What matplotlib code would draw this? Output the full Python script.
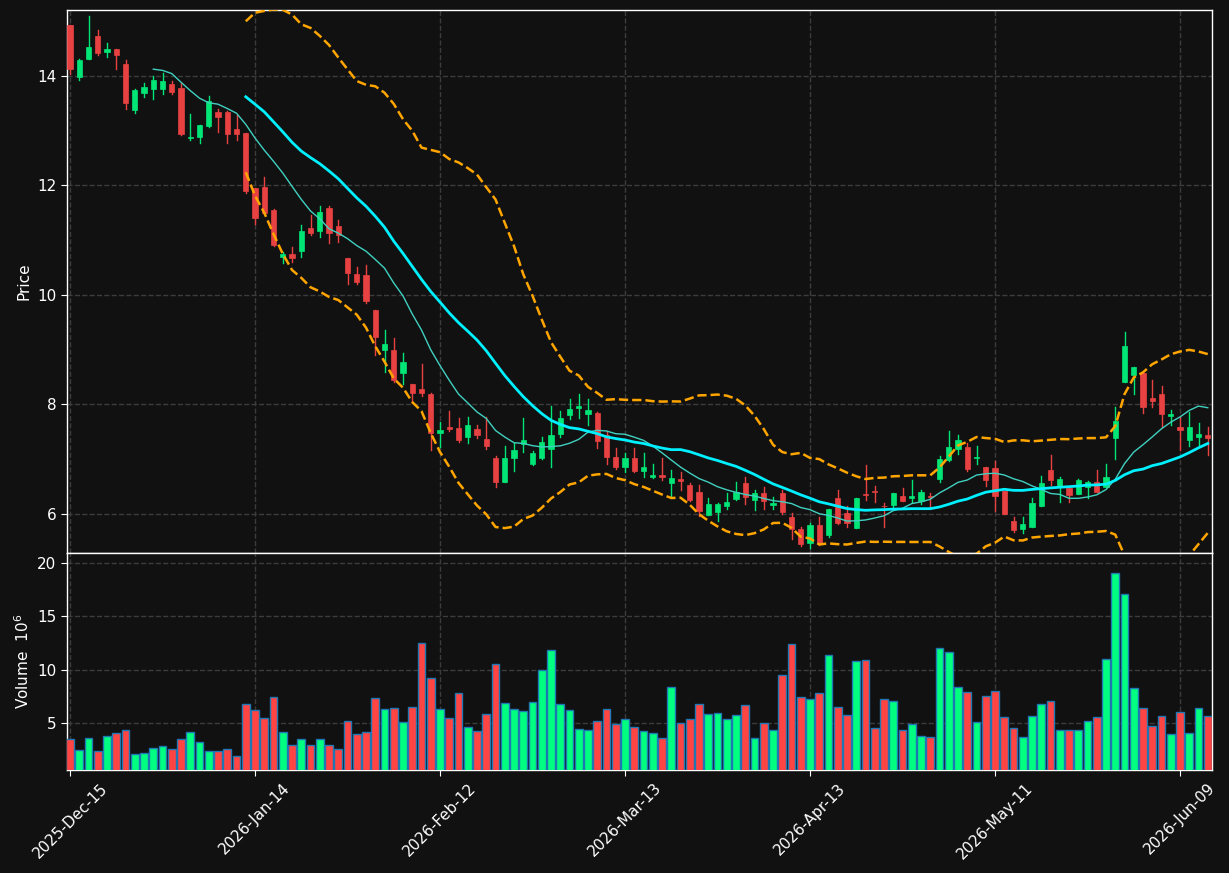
import numpy as np
import pandas as pd
import matplotlib
matplotlib.use("Agg")
import matplotlib.pyplot as plt
from matplotlib.patches import Rectangle
from matplotlib.lines import Line2D

# ---------------- data ----------------
opens = [14.92, 13.97, 14.30, 14.73, 14.43, 14.48, 14.22, 13.38, 13.69, 13.75,
         13.75, 13.85, 13.78, 12.87, 12.88, 13.08, 13.33, 13.33, 13.03, 12.96,
         11.95, 11.97, 11.55, 10.69, 10.74, 10.80, 11.22, 11.16, 11.59, 11.26,
         10.67, 10.38, 10.36, 9.72, 8.99, 8.99, 8.57, 8.38, 8.29, 8.19,
         7.48, 7.58, 7.57, 7.41, 7.55, 7.37, 7.02, 6.59, 7.03, 7.28,
         6.92, 7.03, 7.19, 7.47, 7.81, 7.94, 7.83, 7.84, 7.44, 7.04,
         6.85, 7.02, 6.79, 6.68, 6.71, 6.56, 6.64, 6.53, 6.41, 5.99,
         6.04, 6.14, 6.27, 6.57, 6.25, 6.39, 6.16, 6.39, 5.94, 5.72,
         5.48, 5.80, 5.61, 6.29, 6.02, 5.75, 6.36, 6.42, 6.15, 6.16,
         6.33, 6.30, 6.23, 6.33, 6.64, 6.99, 7.19, 7.22, 7.02, 6.86,
         6.84, 6.42, 5.87, 5.73, 5.76, 6.15, 6.80, 6.49, 6.47, 6.37,
         6.50, 6.58, 6.49, 7.39, 8.41, 8.53, 8.58, 8.12, 8.20, 7.79,
         7.59, 7.35, 7.41, 7.44]
highs = [14.92, 14.31, 15.09, 14.84, 14.60, 14.49, 14.29, 13.76, 13.87, 13.99,
         14.05, 13.91, 13.86, 13.30, 13.10, 13.63, 13.40, 13.36, 13.29, 12.96,
         11.95, 12.15, 11.57, 10.79, 10.87, 11.27, 11.45, 11.63, 11.62, 11.37,
         10.68, 10.50, 10.54, 9.72, 9.35, 9.22, 8.94, 8.38, 8.74, 8.21,
         7.68, 7.88, 7.75, 7.78, 7.62, 7.78, 7.06, 7.25, 7.30, 7.75,
         7.15, 7.41, 7.98, 7.88, 8.10, 8.20, 8.10, 7.86, 7.52, 7.21,
         7.12, 7.20, 7.11, 6.92, 7.02, 6.80, 6.76, 6.56, 6.53, 6.29,
         6.21, 6.39, 6.59, 6.68, 6.44, 6.50, 6.31, 6.44, 6.02, 5.77,
         5.83, 5.94, 6.09, 6.44, 6.15, 6.30, 6.89, 6.52, 6.20, 6.39,
         6.47, 6.62, 6.44, 6.38, 7.06, 7.51, 7.45, 7.30, 7.25, 6.86,
         6.97, 6.42, 5.95, 5.95, 6.29, 6.69, 7.08, 6.67, 6.47, 6.64,
         6.60, 6.80, 6.91, 7.95, 9.33, 8.69, 8.58, 8.44, 8.34, 7.90,
         7.78, 7.87, 7.67, 7.58]
lows = [14.04, 13.92, 14.30, 14.37, 14.34, 14.12, 13.39, 13.32, 13.61, 13.57,
        13.66, 13.66, 12.91, 12.82, 12.78, 13.07, 12.98, 12.78, 12.82, 11.86,
        11.30, 11.47, 10.89, 10.59, 10.60, 10.69, 11.10, 11.06, 10.94, 10.96,
        10.20, 10.19, 9.85, 8.91, 8.59, 8.41, 8.38, 8.04, 8.16, 7.17,
        7.23, 7.52, 7.31, 7.30, 7.38, 7.18, 6.50, 6.58, 6.78, 7.13,
        6.90, 7.01, 6.85, 7.41, 7.73, 7.75, 7.62, 7.20, 6.91, 6.82,
        6.77, 6.76, 6.68, 6.65, 6.62, 6.32, 6.43, 6.23, 5.96, 5.98,
        5.87, 6.10, 6.25, 6.19, 6.07, 6.10, 6.10, 6.01, 5.54, 5.41,
        5.38, 5.44, 5.58, 5.82, 5.77, 5.75, 6.25, 6.22, 5.76, 6.12,
        6.24, 6.22, 6.19, 6.13, 6.58, 6.97, 7.10, 6.79, 6.92, 6.52,
        6.06, 6.01, 5.68, 5.65, 5.76, 6.15, 6.53, 6.22, 6.22, 6.37,
        6.30, 6.40, 6.49, 7.00, 8.41, 8.19, 7.84, 7.95, 7.59, 7.63,
        7.17, 7.25, 7.26, 7.08]
closes = [14.13, 14.29, 14.53, 14.41, 14.49, 14.37, 13.51, 13.73, 13.80, 13.93,
          13.91, 13.71, 12.94, 12.89, 13.10, 13.54, 13.25, 12.94, 12.94, 11.90,
          11.41, 11.50, 10.91, 10.74, 10.68, 11.16, 11.13, 11.51, 11.13, 11.10,
          10.40, 10.24, 9.88, 9.23, 9.10, 8.44, 8.77, 8.21, 8.21, 7.48,
          7.53, 7.56, 7.36, 7.62, 7.45, 7.25, 6.58, 7.02, 7.17, 7.35,
          7.12, 7.32, 7.44, 7.75, 7.92, 7.97, 7.90, 7.34, 7.05, 6.85,
          7.02, 6.79, 6.86, 6.71, 6.68, 6.66, 6.61, 6.25, 6.05, 6.19,
          6.19, 6.22, 6.40, 6.32, 6.39, 6.23, 6.21, 6.04, 5.73, 5.46,
          5.80, 5.48, 6.09, 5.84, 5.84, 6.29, 6.35, 6.40, 6.14, 6.39,
          6.24, 6.33, 6.40, 6.32, 7.00, 7.22, 7.35, 6.82, 7.05, 6.63,
          6.33, 6.01, 5.71, 5.82, 6.20, 6.57, 6.62, 6.64, 6.35, 6.62,
          6.58, 6.40, 6.67, 7.70, 9.06, 8.68, 7.96, 8.07, 7.83, 7.82,
          7.54, 7.59, 7.46, 7.39]
volumes_m = [3.45, 2.41, 3.54, 2.32, 3.73, 4.01, 4.29, 2.04, 2.13, 2.60,
             2.79, 2.51, 3.45, 4.11, 3.17, 2.32, 2.32, 2.51, 1.85, 6.74,
             6.17, 5.42, 7.40, 4.11, 2.88, 3.45, 2.88, 3.45, 2.88, 2.51,
             5.14, 3.92, 4.11, 7.30, 6.27, 6.36, 5.05, 6.46, 12.48, 9.18,
             6.27, 5.42, 7.77, 4.58, 4.20, 5.80, 10.50, 6.83, 6.27, 6.08,
             6.93, 9.94, 11.82, 6.74, 6.17, 4.39, 4.29, 5.14, 6.27, 4.86,
             5.33, 4.58, 4.20, 4.01, 3.54, 8.34, 4.95, 5.33, 6.74, 5.80,
             5.89, 5.33, 5.70, 6.64, 3.54, 4.95, 4.29, 9.47, 12.38, 7.40,
             7.21, 7.77, 11.35, 6.46, 5.70, 10.78, 10.88, 4.48, 7.21, 7.02,
             4.29, 4.86, 3.73, 3.64, 12.01, 11.63, 8.34, 7.87, 5.05, 7.49,
             7.96, 5.52, 4.48, 3.64, 5.61, 6.74, 7.02, 4.29, 4.29, 4.29,
             5.14, 5.52, 10.97, 19.06, 17.08, 8.24, 6.36, 4.67, 5.61, 3.92,
             5.99, 4.01, 6.36, 5.61]
tick_positions = [0, 20, 40, 60, 80, 100, 120]
tick_labels = ['2025-Dec-15', '2026-Jan-14', '2026-Feb-12', '2026-Mar-13',
               '2026-Apr-13', '2026-May-11', '2026-Jun-09']
price_ticks = [6, 8, 10, 12, 14]
volume_ticks = [5, 10, 15, 20]

# ---------------- style ----------------
BG = '#111111'
UP = '#00e676'
DOWN = '#e84142'
VUP = '#00ff80'
VDOWN = '#ff4444'
GRID = '#3c3c3c'

df = pd.DataFrame({'Open': opens, 'High': highs, 'Low': lows, 'Close': closes,
                   'Volume': volumes_m})
n = len(df)
x = np.arange(n)
sma20 = df['Close'].rolling(20).mean()
sma10 = df['Close'].rolling(10).mean()
std20 = df['Close'].rolling(20).std()
upper = sma20 + 2 * std20
lower = sma20 - 2 * std20

fig = plt.figure(figsize=(12.29, 8.73), dpi=100, facecolor=BG)
ax = fig.add_axes([0.0545, 0.3666, 0.9317, 0.6220], facecolor=BG)
axv = fig.add_axes([0.0545, 0.1180, 0.9317, 0.2486], facecolor=BG, sharex=ax)

for a in (ax, axv):
    for s in a.spines.values():
        s.set_color('white')
        s.set_linewidth(1.0)
    a.tick_params(colors='white', labelcolor='white', labelsize=11, length=4)
    a.grid(True, color=GRID, linestyle='--', linewidth=1.0)
    a.set_axisbelow(True)

# candles
body_w = 0.55
for i in range(n):
    o, h, l, c = opens[i], highs[i], lows[i], closes[i]
    col = UP if c >= o else DOWN
    ax.add_line(Line2D([i, i], [l, h], color=col, linewidth=1.0, zorder=3))
    bot = min(o, c)
    height = max(abs(c - o), 0.012)
    ax.add_patch(Rectangle((i - body_w / 2, bot), body_w, height,
                           facecolor=col, edgecolor=col, linewidth=0.5, zorder=4))

ax.plot(x, sma10, color='#40d0c0', linewidth=1.0, zorder=5)
ax.plot(x, sma20, color='#00f0ff', linewidth=2.0, zorder=5)
ax.plot(x, upper, color='#ffa500', linewidth=1.8, linestyle='--', zorder=5)
ax.plot(x, lower, color='#ffa500', linewidth=1.8, linestyle='--', zorder=5)

ax.set_xlim(-0.33, n - 1 + 0.46)
ax.set_ylim(5.29, 15.2)
ax.set_yticks(price_ticks)
ax.set_ylabel('Price', color='white', fontsize=11)
plt.setp(ax.get_xticklabels(), visible=False)

# volume
vcols = [VUP if closes[i] >= opens[i] else VDOWN for i in range(n)]
axv.bar(x, volumes_m, width=0.85, color=vcols, edgecolor='#1f77b4',
        linewidth=1.0, zorder=3)
axv.set_ylim(0.3 * min(volumes_m), 1.1 * max(volumes_m))
axv.set_yticks(volume_ticks)
axv.set_ylabel('Volume  $10^6$', color='white', fontsize=11)
axv.set_xticks(tick_positions)
axv.set_xticklabels(tick_labels, rotation=45, fontsize=11)

fig.savefig('out.png', dpi=100, facecolor=BG)
